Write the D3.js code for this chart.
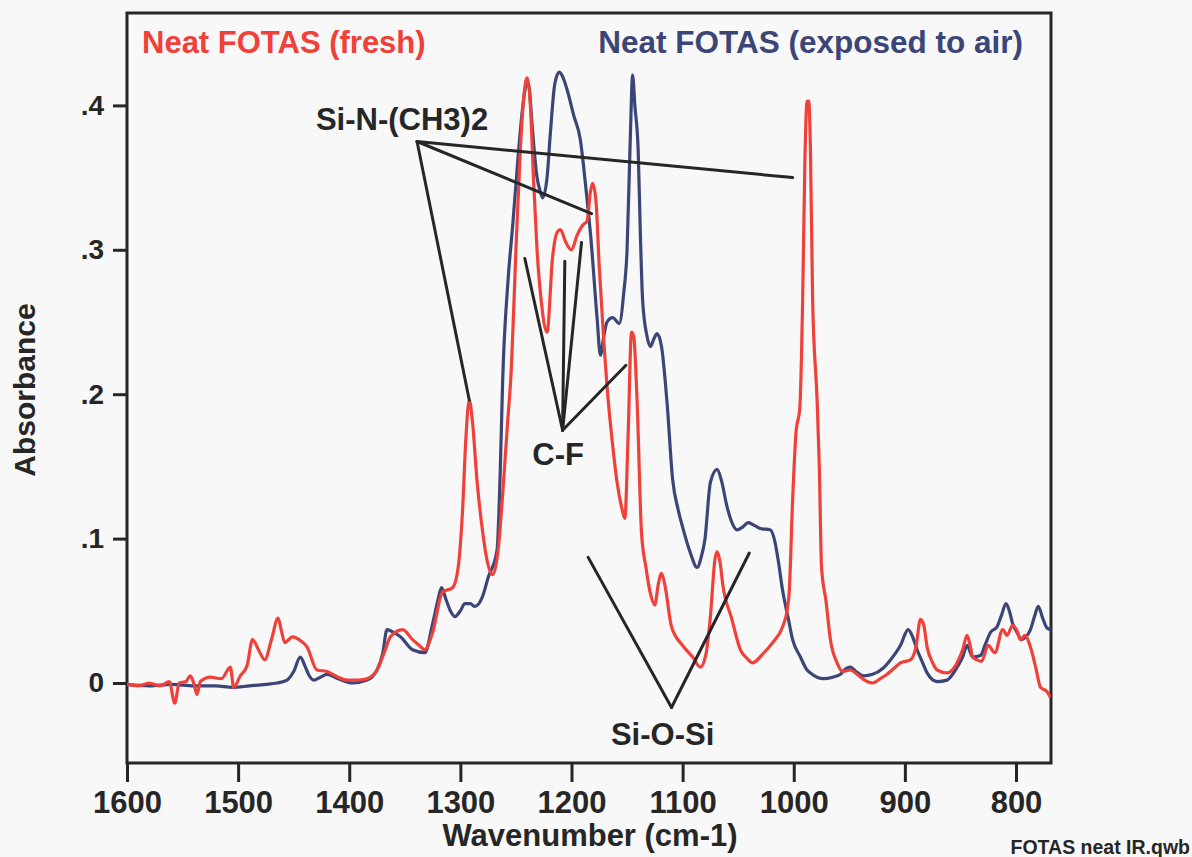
<!DOCTYPE html>
<html>
<head>
<meta charset="utf-8">
<script src="https://cdn.jsdelivr.net/npm/d3@7"></script>
<style>
  html, body { margin: 0; padding: 0; background: #f8f8f8; }
  svg { display: block; }
  text { font-family: "Liberation Sans", Arial, Helvetica, sans-serif; font-weight: bold; }
</style>
</head>
<body>
<svg id="chart" width="1192" height="857"></svg>
<script>
// ---------- data ----------
const xTickValues = [1600, 1500, 1400, 1300, 1200, 1100, 1000, 900, 800];
const yTickValues = [0, 0.1, 0.2, 0.3, 0.4];
const yTickLabels = ["0", ".1", ".2", ".3", ".4"];

const seriesNames = ["Neat FOTAS (fresh)", "Neat FOTAS (exposed to air)"];

// Neat FOTAS (fresh)
const freshWn = [1600,1590,1580,1570,1562,1557,1553,1547,1543,1540,1537,1534,1525,1515,1507,1504,1498,1492,1487,1481,1476,1470,1464,1461,1458,1451,1445,1438,1429,1420,1410,1402,1393,1384,1375,1368,1363,1352,1343,1337,1332,1325,1316,1307,1302,1298,1295,1292,1289,1285,1280,1276,1271,1266,1262,1258,1254,1250,1246,1243,1240,1237,1234,1231,1227,1222,1217,1213,1210,1205,1200,1195,1190,1186,1183,1181,1178,1175,1172,1167,1163,1159,1155,1152,1149,1146,1144,1141,1137,1133,1129,1125,1122,1119,1116,1110,1100,1091,1084,1079,1075,1071,1069,1066,1064,1056,1048,1042,1037,1028,1019,1010,1006,1004,1001,998,994.5,992,990,988,986.5,985,983,979,977,975,971,967,961,956,949,943,934,929,922,916,910,904,895,890,886,883,880,875,871,862,853,848,844,841,839,835,831,825,819,812,808,803,799,796,792,787,782,778,772,769];
const freshAbs = [-0.001,-0.002,0.000,-0.002,0.001,-0.014,0.000,0.001,0.005,0.000,-0.008,0.001,0.004,0.003,0.011,-0.003,0.005,0.012,0.030,0.022,0.016,0.030,0.045,0.036,0.028,0.032,0.030,0.025,0.009,0.008,0.004,0.002,0.002,0.003,0.009,0.022,0.032,0.037,0.030,0.026,0.023,0.035,0.063,0.066,0.080,0.120,0.170,0.196,0.180,0.140,0.105,0.085,0.075,0.092,0.130,0.175,0.220,0.300,0.370,0.405,0.419,0.400,0.346,0.300,0.263,0.243,0.295,0.312,0.314,0.305,0.300,0.310,0.317,0.320,0.340,0.346,0.334,0.288,0.250,0.196,0.165,0.139,0.122,0.114,0.173,0.243,0.240,0.196,0.104,0.080,0.062,0.054,0.068,0.076,0.068,0.039,0.026,0.018,0.011,0.020,0.046,0.085,0.091,0.082,0.069,0.045,0.023,0.017,0.014,0.020,0.028,0.039,0.050,0.064,0.127,0.173,0.191,0.265,0.360,0.403,0.403,0.370,0.265,0.196,0.150,0.080,0.057,0.030,0.014,0.008,0.009,0.006,0.001,0.000,0.003,0.006,0.010,0.014,0.016,0.025,0.044,0.040,0.025,0.014,0.009,0.007,0.014,0.023,0.033,0.025,0.018,0.016,0.015,0.026,0.021,0.037,0.033,0.040,0.036,0.030,0.033,0.025,0.010,-0.003,-0.006,-0.010];

// Neat FOTAS (exposed to air)
const exposedWn = [1600,1580,1560,1540,1520,1505,1490,1475,1465,1456,1450,1444,1440,1436,1432,1426,1420,1410,1397,1384,1375,1370,1366,1360,1354,1343,1332,1325,1320,1317,1313,1309,1305,1300,1296,1291,1287,1280,1275,1267,1264,1262,1257,1253,1248,1244,1240,1238,1236,1231,1228,1226,1222,1219,1215,1211,1208,1204,1198,1192,1189,1186,1183,1177,1174,1171,1168,1163,1157,1153,1150,1147,1145,1143,1140,1138,1136,1132,1129,1126,1123,1119,1114,1109,1104,1100,1093,1087,1083,1080,1075,1069,1065,1060,1055,1051,1046,1041,1035,1030,1021,1017,1014,1010,1005,1001,994,988,985,979,973,965,958,953,949,944,937,929,920,913,904,897,893,889,884,880,871,862,858,853,848,844,839,832,828,823,817,813,809,806,803,799,795,791,787,783,780,776,772,768.5];
const exposedAbs = [-0.001,-0.002,-0.001,-0.002,-0.002,-0.003,-0.002,-0.001,0.000,0.002,0.008,0.018,0.012,0.005,0.002,0.004,0.006,0.003,0.000,0.002,0.009,0.020,0.037,0.035,0.032,0.023,0.021,0.041,0.058,0.066,0.058,0.050,0.046,0.050,0.055,0.055,0.053,0.060,0.073,0.092,0.150,0.208,0.280,0.316,0.365,0.398,0.416,0.412,0.392,0.350,0.340,0.336,0.350,0.381,0.415,0.423,0.420,0.411,0.393,0.376,0.357,0.335,0.312,0.253,0.227,0.240,0.250,0.253,0.249,0.270,0.300,0.380,0.421,0.400,0.369,0.310,0.265,0.240,0.233,0.238,0.242,0.233,0.194,0.141,0.120,0.108,0.090,0.080,0.088,0.099,0.139,0.148,0.140,0.122,0.110,0.106,0.108,0.111,0.109,0.107,0.106,0.098,0.085,0.064,0.045,0.030,0.018,0.009,0.007,0.004,0.003,0.004,0.006,0.010,0.011,0.008,0.005,0.006,0.010,0.016,0.026,0.037,0.032,0.023,0.014,0.007,0.001,0.002,0.005,0.011,0.018,0.026,0.018,0.019,0.026,0.035,0.039,0.047,0.055,0.050,0.041,0.035,0.030,0.032,0.037,0.047,0.053,0.045,0.038,0.037];

// annotations (wavenumber, absorbance)
const annoLabels = ["Si-N-(CH3)2", "C-F", "Si-O-Si"];
const annoLabelWn = [1352.5, 1212, 1118];
const annoLabelAbs = [0.383, 0.151, -0.043];
const annoApexWn = [1339, 1208, 1110];
const annoApexAbs = [0.375, 0.175, -0.017];
const annoTargetsWn = [[1001, 1182, 1292], [1242, 1206, 1191, 1151], [1185, 1040]];
const annoTargetsAbs = [[0.350, 0.325, 0.196], [0.294, 0.292, 0.305, 0.220], [0.087, 0.090]];

// ---------- chart ----------
const svg = d3.select("#chart");
const pL = 127, pR = 1051, pT = 13, pB = 763;
const x = d3.scaleLinear().domain([1600, 768.5]).range([pL, pR]);
const y = d3.scaleLinear().domain([0, 0.4]).range([683, 105.4]);

const red = "#f0403a";
const navy = "#3b4577";
const ink = "#262626";

// frame
svg.append("rect")
  .attr("x", pL).attr("y", pT)
  .attr("width", pR - pL).attr("height", pB - pT)
  .attr("fill", "none").attr("stroke", ink).attr("stroke-width", 3);

// x axis
const xAxis = svg.append("g").attr("transform", `translate(0,${pB})`)
  .call(d3.axisBottom(x).tickValues(xTickValues).tickFormat(d3.format("d"))
    .tickSizeInner(19).tickSizeOuter(0).tickPadding(9));
xAxis.select(".domain").remove();
xAxis.selectAll(".tick line").attr("stroke", ink).attr("stroke-width", 3);
xAxis.selectAll(".tick text").attr("fill", "#262626").style("font-size", "31px")
  .style("font-family", "'Liberation Sans', Arial, sans-serif").style("font-weight", "bold");

// y axis
const yAxis = svg.append("g").attr("transform", `translate(${pL},0)`)
  .call(d3.axisLeft(y).tickValues(yTickValues).tickFormat((d, i) => yTickLabels[i])
    .tickSizeInner(14).tickSizeOuter(0).tickPadding(9));
yAxis.select(".domain").remove();
yAxis.selectAll(".tick line").attr("stroke", ink).attr("stroke-width", 3);
yAxis.selectAll(".tick text").attr("fill", "#262626").style("font-size", "28px")
  .style("font-family", "'Liberation Sans', Arial, sans-serif").style("font-weight", "bold");

// axis titles
svg.append("text").attr("x", 590).attr("y", 846).attr("text-anchor", "middle")
  .attr("fill", "#262626").style("font-size", "31px").text("Wavenumber (cm-1)");
svg.append("text").attr("transform", "translate(35,390) rotate(-90)").attr("text-anchor", "middle")
  .attr("fill", "#262626").style("font-size", "30px").text("Absorbance");
svg.append("text").attr("x", 1190).attr("y", 854).attr("text-anchor", "end")
  .attr("fill", "#262626").style("font-size", "19.5px").text("FOTAS neat IR.qwb");

// series
const line = d3.line().x(d => x(d[0])).y(d => y(d[1])).curve(d3.curveMonotoneX);
svg.append("clipPath").attr("id", "plotclip").append("rect")
  .attr("x", pL).attr("y", pT).attr("width", pR - pL).attr("height", pB - pT);

const exposed = exposedWn.map((w, i) => [w, exposedAbs[i]]);
const fresh = freshWn.map((w, i) => [w, freshAbs[i]]);

svg.append("path").datum(exposed).attr("d", line).attr("fill", "none")
  .attr("stroke", navy).attr("stroke-width", 3.2).attr("stroke-linejoin", "round")
  .attr("clip-path", "url(#plotclip)");
svg.append("path").datum(fresh).attr("d", line).attr("fill", "none")
  .attr("stroke", red).attr("stroke-width", 3.2).attr("stroke-linejoin", "round")
  .attr("clip-path", "url(#plotclip)");

// legend titles
svg.append("text").attr("x", 142).attr("y", 53).attr("fill", red)
  .style("font-size", "31px").text(seriesNames[0]);
svg.append("text").attr("x", 1023).attr("y", 53).attr("text-anchor", "end").attr("fill", navy)
  .style("font-size", "31.5px").text(seriesNames[1]);

// annotations
annoLabels.forEach((lab, i) => {
  annoTargetsWn[i].forEach((tw, j) => {
    svg.append("line")
      .attr("x1", x(annoApexWn[i])).attr("y1", y(annoApexAbs[i]))
      .attr("x2", x(tw)).attr("y2", y(annoTargetsAbs[i][j]))
      .attr("stroke", ink).attr("stroke-width", 3).attr("stroke-linecap", "round");
  });
  svg.append("text").attr("x", x(annoLabelWn[i])).attr("y", y(annoLabelAbs[i]))
    .attr("text-anchor", "middle").attr("fill", "#262626").style("font-size", "31px").text(lab);
});
</script>
</body>
</html>
